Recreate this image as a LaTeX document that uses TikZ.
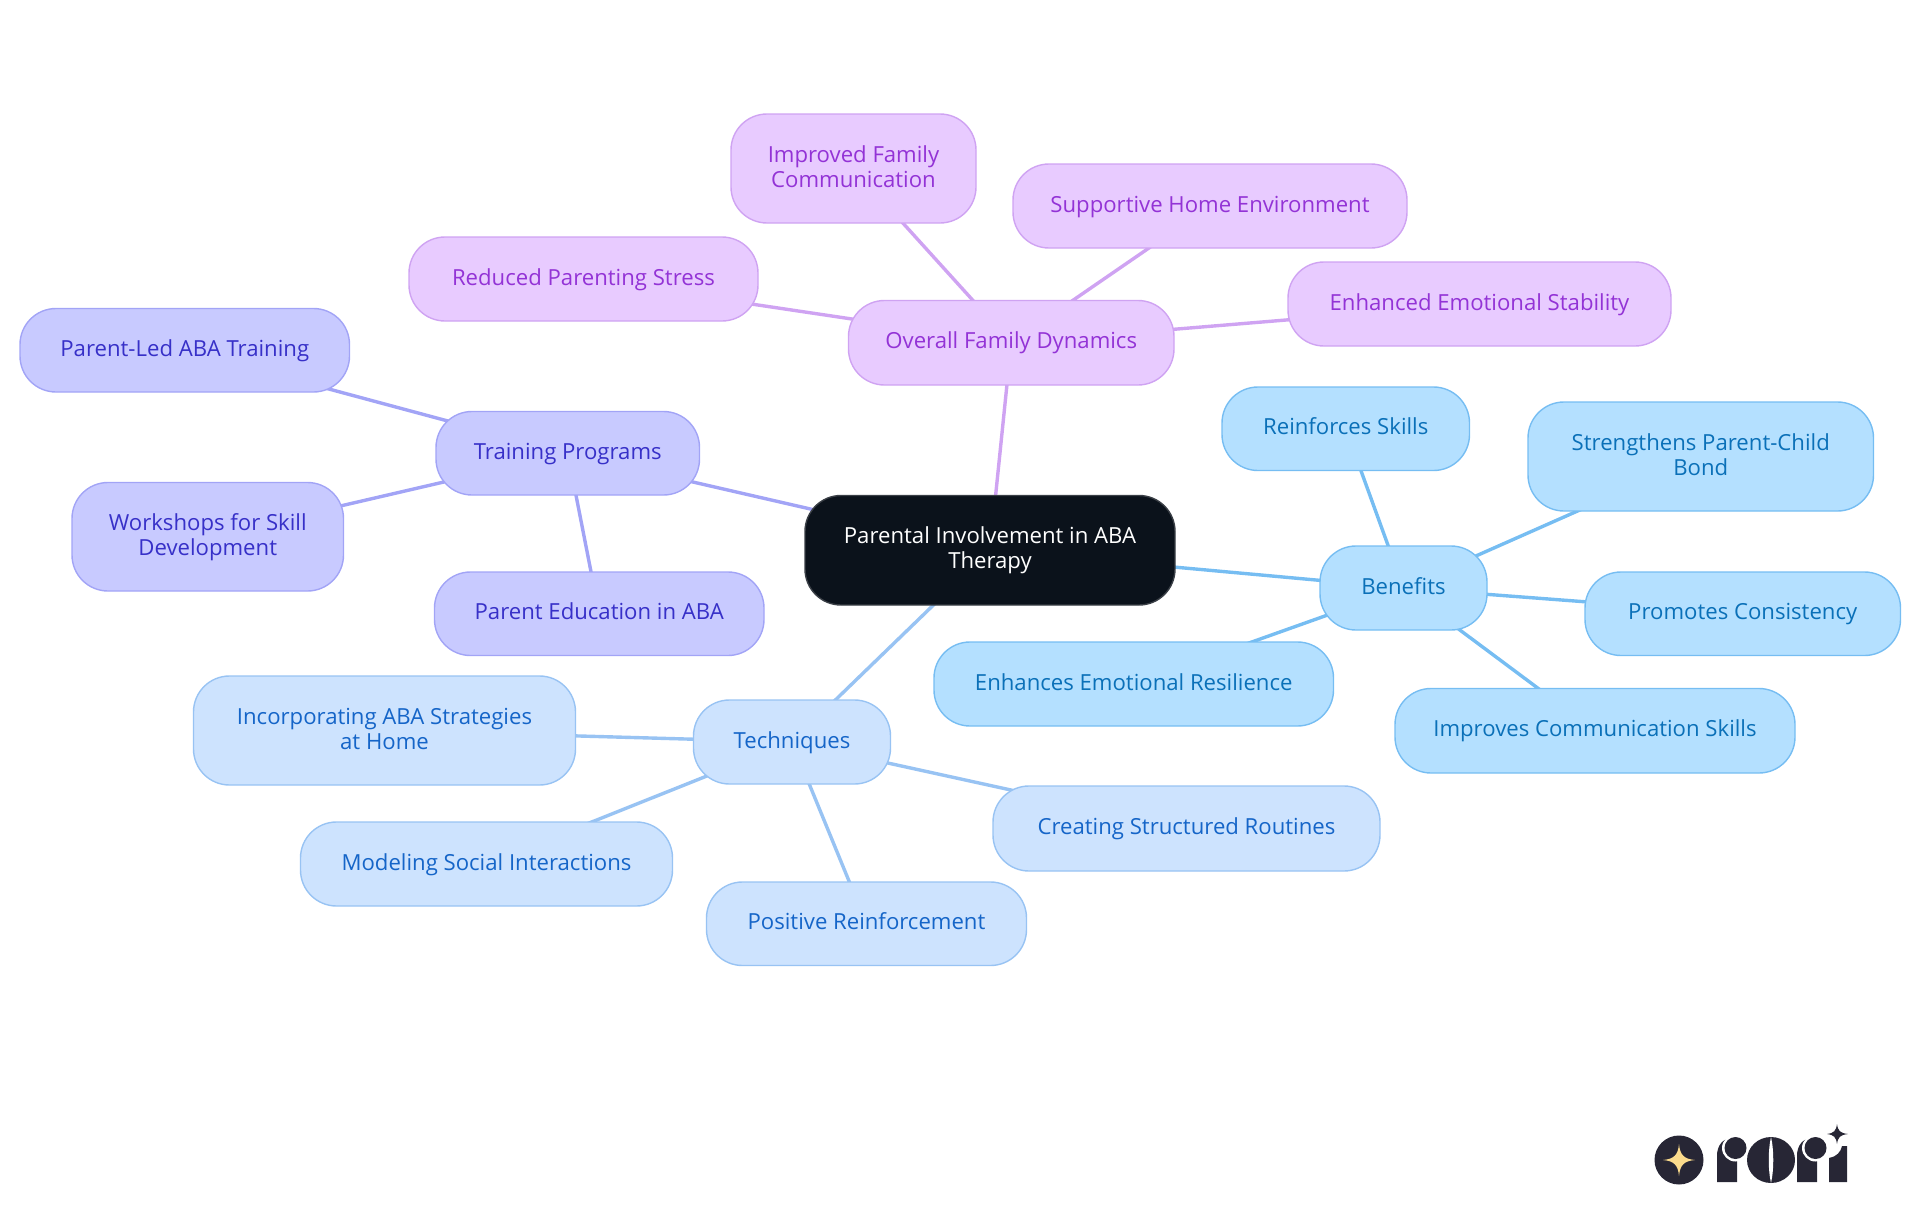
\documentclass[tikz,border=0pt]{standalone}
\usepackage{fontspec}
\setmainfont{Open Sans}
\usetikzlibrary{backgrounds}
\definecolor{rootf}{HTML}{0B121B}\definecolor{roots}{HTML}{3A3F46}
\definecolor{purf}{HTML}{E8CBFF}\definecolor{purs}{HTML}{CFA3F2}\definecolor{purt}{HTML}{9333D6}
\definecolor{indf}{HTML}{C8CAFF}\definecolor{inds}{HTML}{A2A4F6}\definecolor{indt}{HTML}{3730C8}
\definecolor{benf}{HTML}{B4E0FF}\definecolor{bens}{HTML}{76BDF2}\definecolor{bent}{HTML}{0A70B8}
\definecolor{tecf}{HTML}{CDE3FE}\definecolor{tecs}{HTML}{98C3F3}\definecolor{tect}{HTML}{1565C8}
\definecolor{logod}{HTML}{272635}\definecolor{logog}{HTML}{FBDB8C}
\tikzset{
  x=1pt,y=-1pt,
  mm/.style={rectangle,rounded corners=36pt,line width=1.4pt,inner sep=0pt,align=center,
    font=\fontsize{22.15}{25}\selectfont},
  rootn/.style={mm,fill=rootf,draw=roots,text=white},
  purn/.style={mm,fill=purf,draw=purs,text=purt},
  indn/.style={mm,fill=indf,draw=inds,text=indt},
  benn/.style={mm,fill=benf,draw=bens,text=bent},
  tecn/.style={mm,fill=tecf,draw=tecs,text=tect},
  lk/.style={line width=3.4pt},
  pure/.style={lk,draw=purs},inde/.style={lk,draw=inds},bene/.style={lk,draw=bens},tece/.style={lk,draw=tecs},
}
\newcommand{\ls}{\rule[-6.5pt]{0pt}{25pt}}
\newcommand{\nl}{\ls\\\ls}
\newcommand{\mapnode}[7]{\node[#1,minimum width=#5pt-#3pt,minimum height=#6pt-#4pt] (#2) at ({(#3+#5)/2},{(#4+#6)/2}) {\ls #7\ls};}
\begin{document}
\begin{tikzpicture}
\useasboundingbox (0,0) rectangle (1920,1215);
\mapnode{rootn}{root}{805}{495.5}{1175}{605}{Parental Involvement in ABA\nl Therapy}
\mapnode{purn}{overall}{848.5}{300.5}{1174}{385}{Overall Family Dynamics}
\mapnode{purn}{improved}{731}{114}{976}{223}{Improved Family\nl Communication}
\mapnode{purn}{supportive}{1013}{164}{1407}{248}{Supportive Home Environment}
\mapnode{purn}{reduced}{409}{237}{758}{321}{Reduced Parenting Stress}
\mapnode{purn}{stability}{1288}{262}{1671}{346}{Enhanced Emotional Stability}
\mapnode{indn}{training}{436}{411.5}{699.5}{495}{Training Programs}
\mapnode{indn}{parentled}{20}{308.5}{349.5}{392}{Parent-Led ABA Training}
\mapnode{indn}{workshops}{72}{482.5}{343.5}{591}{Workshops for Skill\nl Development}
\mapnode{indn}{education}{434.5}{572}{764}{655.5}{Parent Education in ABA}
\mapnode{benn}{benefits}{1320}{546}{1487}{630}{Benefits}
\mapnode{benn}{reinforces}{1222}{387}{1469.5}{470.5}{Reinforces Skills}
\mapnode{benn}{strengthens}{1528}{402}{1873.5}{511}{Strengthens Parent-Child\nl Bond}
\mapnode{benn}{promotes}{1585}{572}{1900.5}{655.5}{Promotes Consistency}
\mapnode{benn}{improves}{1395}{688.5}{1795}{773}{Improves Communication Skills}
\mapnode{benn}{resilience}{934}{642}{1333.5}{726}{Enhances Emotional Resilience}
\mapnode{tecn}{techniques}{693.5}{700}{890.5}{784}{Techniques}
\mapnode{tecn}{incorporating}{193.5}{676}{575.5}{785}{Incorporating ABA Strategies\nl at Home}
\mapnode{tecn}{modeling}{300.5}{822}{672.5}{906}{Modeling Social Interactions}
\mapnode{tecn}{positive}{706.5}{882}{1026.5}{965.5}{Positive Reinforcement}
\mapnode{tecn}{creating}{993}{786}{1380}{871}{Creating Structured Routines}
\begin{scope}[on background layer]
\draw[pure] (root.center)--(overall.center);
\foreach \n in {improved,supportive,reduced,stability}{\draw[pure] (overall.center)--(\n.center);}
\draw[inde] (root.center)--(training.center);
\foreach \n in {parentled,workshops,education}{\draw[inde] (training.center)--(\n.center);}
\draw[bene] (root.center)--(benefits.center);
\foreach \n in {reinforces,strengthens,promotes,improves,resilience}{\draw[bene] (benefits.center)--(\n.center);}
\draw[tece] (root.center)--(techniques.center);
\foreach \n in {incorporating,modeling,positive,creating}{\draw[tece] (techniques.center)--(\n.center);}
\end{scope}
% logo
\fill[logod] (1679,1160) circle (24.5);
\fill[logog] (1679,1144) .. controls (1680,1155) and (1684,1159) .. (1695,1160) .. controls (1684,1161) and (1680,1165) .. (1679,1176) .. controls (1678,1165) and (1674,1161) .. (1663,1160) .. controls (1674,1159) and (1678,1155) .. (1679,1144) -- cycle;
\foreach \dx in {0,80}{
  \fill[logod] (1717+\dx,1182) -- (1717+\dx,1156) .. controls (1717+\dx,1146) and (1722+\dx,1139) .. (1731+\dx,1138) -- (1737+\dx,1138) -- (1737+\dx,1182) -- cycle;
  \fill[white] (1735.5+\dx,1148) circle (13.5);
  \fill[logod] (1735.5+\dx,1148) circle (11);
}
\fill[logod] (1771,1160) ellipse (24 and 23);
\fill[white] (1771,1137) .. controls (1768,1150) and (1768,1170) .. (1771,1183) .. controls (1774,1170) and (1774,1150) .. (1771,1137) -- cycle;
\fill[logod] (1829,1182) -- (1829,1158) .. controls (1836,1157) and (1841,1152) .. (1842,1146) -- (1847,1146) -- (1847,1182) -- cycle;
\fill[logod] (1837,1124) .. controls (1838,1131) and (1840,1133) .. (1848,1134) .. controls (1840,1135) and (1838,1137) .. (1837,1144) .. controls (1836,1137) and (1834,1135) .. (1827,1134) .. controls (1834,1133) and (1836,1131) .. (1837,1124) -- cycle;
\end{tikzpicture}
\end{document}
